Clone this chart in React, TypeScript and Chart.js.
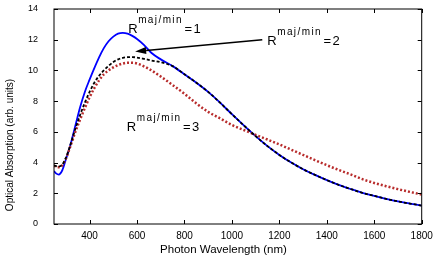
import React, { useEffect, useRef } from "react";
import { Chart, registerables } from "chart.js";

Chart.register(...registerables);

// ---- Data ----
const wavelengthR1 = [250, 260, 270, 285, 300, 320, 340, 360, 380, 400, 420, 440, 460, 480, 500, 520, 540, 560, 580, 600, 630, 660, 700, 750, 800, 850, 900, 950, 1000, 1050, 1100, 1150, 1200, 1250, 1300, 1350, 1400, 1450, 1500, 1550, 1600, 1650, 1700, 1750, 1800];
const absorptionR1 = [3.45, 3.28, 3.22, 3.5, 4.2, 5.2, 6.4, 7.6, 8.6, 9.4, 10.15, 10.85, 11.45, 11.9, 12.2, 12.4, 12.45, 12.4, 12.25, 12.05, 11.65, 11.15, 10.72, 10.28, 9.75, 9.2, 8.6, 7.9, 7.15, 6.42, 5.72, 5.07, 4.5, 4.0, 3.57, 3.2, 2.86, 2.55, 2.28, 2.03, 1.83, 1.64, 1.47, 1.33, 1.2];

const wavelengthR2 = [250, 265, 280, 300, 320, 340, 360, 380, 400, 420, 440, 460, 480, 500, 520, 540, 560, 580, 600, 630, 660, 700, 750, 800, 850, 900, 950, 1000, 1050, 1100, 1150, 1200, 1250, 1300, 1350, 1400, 1450, 1500, 1550, 1600, 1650, 1700, 1750, 1800];
const absorptionR2 = [3.82, 3.75, 3.8, 4.3, 5.2, 6.2, 7.1, 7.9, 8.6, 9.2, 9.65, 10.0, 10.3, 10.55, 10.72, 10.82, 10.86, 10.87, 10.84, 10.75, 10.65, 10.53, 10.28, 9.75, 9.2, 8.6, 7.9, 7.15, 6.42, 5.72, 5.07, 4.5, 4.0, 3.57, 3.2, 2.86, 2.55, 2.28, 2.03, 1.83, 1.64, 1.47, 1.33, 1.2];

const wavelengthR3 = [250, 265, 280, 300, 320, 340, 360, 380, 400, 420, 440, 460, 480, 500, 520, 540, 560, 580, 600, 650, 700, 750, 800, 850, 900, 950, 1000, 1050, 1100, 1150, 1200, 1250, 1300, 1350, 1400, 1450, 1500, 1550, 1600, 1650, 1700, 1750, 1800];
const absorptionR3 = [3.8, 3.7, 3.75, 4.25, 5.1, 6.0, 6.8, 7.55, 8.25, 8.85, 9.35, 9.75, 10.0, 10.2, 10.35, 10.45, 10.5, 10.5, 10.45, 10.1, 9.6, 9.05, 8.48, 7.85, 7.3, 6.88, 6.45, 6.12, 5.8, 5.5, 5.18, 4.84, 4.5, 4.16, 3.83, 3.52, 3.23, 2.92, 2.67, 2.46, 2.27, 2.09, 1.92];

const xTicks = [400, 600, 800, 1000, 1200, 1400, 1600, 1800];
const yTicks = [0, 2, 4, 6, 8, 10, 12, 14];

const xTitle = "Photon Wavelength (nm)";
const yTitle = "Optical Absorption (arb. units)";
const ratioLabels = ["1", "2", "3"];
// label anchors (wavelength, absorption) for the "R^maj/min = n" texts
const labelX = [563, 1149, 557];
const labelY = [12.44, 11.67, 6.05];
// arrow from label 2 towards curve 2
const arrowFrom = [1128, 12.0];
const arrowTo = [592, 11.23];

const FONT = '"Liberation Sans", Arial, sans-serif';

const toPoints = (xs: number[], ys: number[]) => xs.map((x, i) => ({ x, y: ys[i] }));

const zeroPad = (s: any) => {
  s.paddingTop = 0;
  s.paddingBottom = 0;
  s.paddingLeft = 0;
  s.paddingRight = 0;
};

const decorPlugin = {
  id: "decor",
  afterDraw(chart: any) {
    const { ctx, chartArea: a, scales } = chart;
    const xs = scales.x;
    const ys = scales.y;
    ctx.save();
    // frame
    ctx.strokeStyle = "#000";
    ctx.lineWidth = 1;
    ctx.strokeRect(a.left, a.top, a.right - a.left, a.bottom - a.top);
    // inward ticks
    const tl = 4;
    ctx.beginPath();
    xTicks.forEach((v) => {
      const px = Math.round(xs.getPixelForValue(v)) + 0.5;
      ctx.moveTo(px, a.bottom);
      ctx.lineTo(px, a.bottom - tl);
      ctx.moveTo(px, a.top);
      ctx.lineTo(px, a.top + tl);
    });
    yTicks.forEach((v) => {
      const py = Math.round(ys.getPixelForValue(v)) + 0.5;
      ctx.moveTo(a.left, py);
      ctx.lineTo(a.left + tl, py);
      ctx.moveTo(a.right, py);
      ctx.lineTo(a.right - tl, py);
    });
    ctx.stroke();

    ctx.fillStyle = "#000";
    // x title
    ctx.font = `11.5px ${FONT}`;
    ctx.textAlign = "center";
    ctx.textBaseline = "alphabetic";
    ctx.fillText(xTitle, 223.5, 253);
    // y title
    ctx.save();
    ctx.translate(12.5, 145);
    ctx.rotate(-Math.PI / 2);
    ctx.font = `10px ${FONT}`;
    ctx.fillText(yTitle, 0, 0);
    ctx.restore();

    // ratio labels
    ctx.textAlign = "left";
    ratioLabels.forEach((n, i) => {
      const px = xs.getPixelForValue(labelX[i]);
      const py = ys.getPixelForValue(labelY[i]);
      ctx.font = `13px ${FONT}`;
      (ctx as any).letterSpacing = "0px";
      ctx.fillText("R", px, py);
      const rw = ctx.measureText("R").width;
      ctx.font = `10px ${FONT}`;
      (ctx as any).letterSpacing = "1.4px";
      const sx = px + rw + 0.5;
      ctx.fillText("maj/min", sx, py - 10);
      const sw = ctx.measureText("maj/min").width;
      ctx.font = `13px ${FONT}`;
      (ctx as any).letterSpacing = "1.5px";
      ctx.fillText("=" + n, sx + sw + 1.5, py);
      (ctx as any).letterSpacing = "0px";
    });

    // arrow
    const x1 = xs.getPixelForValue(arrowFrom[0]);
    const y1 = ys.getPixelForValue(arrowFrom[1]);
    const x2 = xs.getPixelForValue(arrowTo[0]);
    const y2 = ys.getPixelForValue(arrowTo[1]);
    const ang = Math.atan2(y2 - y1, x2 - x1);
    const hl = 11;
    const hw = 3.5;
    const bx = x2 - hl * Math.cos(ang);
    const by = y2 - hl * Math.sin(ang);
    ctx.lineWidth = 1.5;
    ctx.beginPath();
    ctx.moveTo(x1, y1);
    ctx.lineTo(bx, by);
    ctx.stroke();
    ctx.beginPath();
    ctx.moveTo(x2, y2);
    ctx.lineTo(bx + hw * Math.sin(ang), by - hw * Math.cos(ang));
    ctx.lineTo(bx - hw * Math.sin(ang), by + hw * Math.cos(ang));
    ctx.closePath();
    ctx.fill();
    ctx.restore();
  },
};

export default function App() {
  const ref = useRef<HTMLCanvasElement | null>(null);
  useEffect(() => {
    if (!ref.current) return;
    const chart = new Chart(ref.current, {
      type: "line",
      data: {
        datasets: [
          {
            label: "R=2",
            data: toPoints(wavelengthR2, absorptionR2),
            borderColor: "#000000",
            borderWidth: 1.8,
            borderDash: [3, 2],
            pointRadius: 0,
            cubicInterpolationMode: "monotone",
            order: 1,
          },
          {
            label: "R=3",
            data: toPoints(wavelengthR3, absorptionR3),
            borderColor: "#b82c2c",
            borderWidth: 2.5,
            borderDash: [2, 2],
            pointRadius: 0,
            cubicInterpolationMode: "monotone",
            order: 2,
          },
          {
            label: "R=1",
            data: toPoints(wavelengthR1, absorptionR1),
            borderColor: "#0000ff",
            borderWidth: 1.8,
            pointRadius: 0,
            cubicInterpolationMode: "monotone",
            order: 3,
          },
        ],
      },
      options: {
        animation: false,
        responsive: false,
        devicePixelRatio: 1,
        layout: { padding: { left: 0, top: 9, right: 14.3, bottom: 0 } },
        plugins: { legend: { display: false }, tooltip: { enabled: false } },
        scales: {
          x: {
            type: "linear",
            min: 250,
            max: 1800,
            afterBuildTicks: (s: any) => {
              s.ticks = xTicks.map((v) => ({ value: v }));
            },
            afterFit: (s: any) => {
              s.height = 35;
              zeroPad(s);
            },
            ticks: {
              autoSkip: false,
              maxRotation: 0,
              padding: 6,
              color: "#000",
              font: { family: FONT, size: 10 },
              callback: (v: any) => String(v),
            },
            grid: { display: false, drawTicks: false },
            border: { display: false },
          },
          y: {
            type: "linear",
            min: 0,
            max: 14,
            afterBuildTicks: (s: any) => {
              s.ticks = yTicks.map((v) => ({ value: v }));
            },
            afterFit: (s: any) => {
              s.width = 54;
              zeroPad(s);
            },
            ticks: {
              padding: 16,
              color: "#000",
              font: { family: FONT, size: 9 },
              callback: (v: any) => String(v),
            },
            grid: { display: false, drawTicks: false },
            border: { display: false },
          },
        },
      },
      plugins: [decorPlugin],
    } as any);
    return () => chart.destroy();
  }, []);
  return (
    <div style={{ position: "fixed", left: 0, top: 0, width: 436, height: 259, background: "#fff" }}>
      <canvas ref={ref} width={436} height={259} style={{ width: 436, height: 259 }} />
    </div>
  );
}
